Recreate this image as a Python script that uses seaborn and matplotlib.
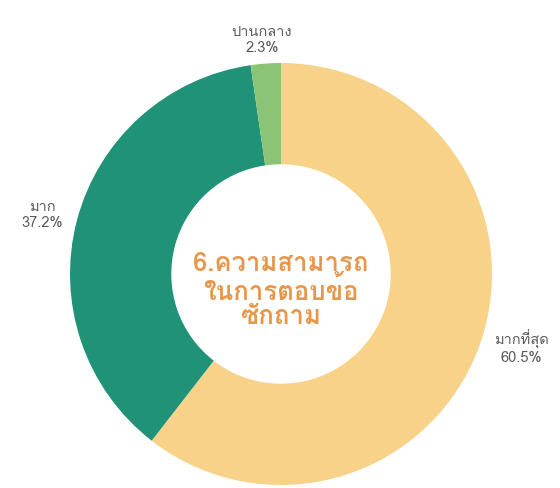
import matplotlib
matplotlib.use("Agg")
import matplotlib.pyplot as plt
from matplotlib import font_manager
from matplotlib.ft2font import FT2Font
import seaborn as sns

labels = ["มากที่สุด", "มาก", "ปานกลาง"]
values = [60.5, 37.2, 2.3]
colors = ["#F7D288", "#1F9277", "#8CC477"]
title_lines = ["6.ความสามารถ", "ในการตอบข้อ", "ซักถาม"]

sns.set_theme(style="white")

# find a font with Thai glyphs
thai_family = None
for f in font_manager.fontManager.ttflist:
    try:
        cm = FT2Font(f.fname).get_charmap()
        if 0x0E01 in cm and 0x0E32 in cm:
            thai_family = f.name
            break
    except Exception:
        pass
families = ([thai_family] if thai_family else []) + ["DejaVu Sans"]
plt.rcParams["font.family"] = families

fig = plt.figure(figsize=(5.6, 4.88), dpi=100)
R = 211.0
cx, cy = 281.0, 488 - 274.0
lim = 1.3
w = 2 * lim * R
ax = fig.add_axes([(cx - w / 2) / 560, (cy - w / 2) / 488, w / 560, w / 488])
ax.pie(values, colors=colors, startangle=90, counterclock=False,
       wedgeprops=dict(width=0.48, edgecolor="none"))
ax.set_xlim(-lim, lim)
ax.set_ylim(-lim, lim)
ax.set_aspect("equal")
ax.axis("off")

lab_pos = [(1.14, -0.35), (-1.13, 0.28), (-0.09, 1.11)]
for lab, v, (x, y) in zip(labels, values, lab_pos):
    ax.text(x, y, f"{lab}\n{v}%", ha="center", va="center", fontsize=10.5,
            color="#5a5a5a", linespacing=1.2)

ax.text(0.0, -0.076, "\n".join(title_lines), ha="center", va="center",
        fontsize=18.5, fontweight="bold", color="#E8974A", linespacing=1.0)

fig.savefig("out.png", dpi=100)
